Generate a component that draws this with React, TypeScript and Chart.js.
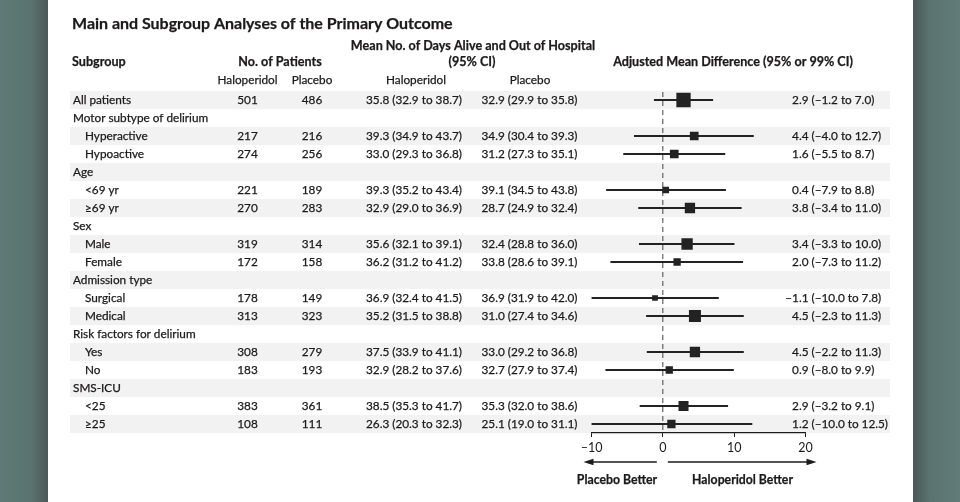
import React, { useEffect, useRef } from 'react';
import { Chart, registerables } from 'chart.js';

Chart.register(...registerables);

// ---------- data ----------
const titleText = 'Main and Subgroup Analyses of the Primary Outcome';
const headerSubgroup = 'Subgroup';
const headerPatients = 'No. of Patients';
const headerDays1 = 'Mean No. of Days Alive and Out of Hospital';
const headerDays2 = '(95% CI)';
const headerDiff = 'Adjusted Mean Difference (95% or 99% CI)';
const armNames = ['Haloperidol', 'Placebo'];
const favorLeft = 'Placebo Better';
const favorRight = 'Haloperidol Better';

const rowLabels = [
  'All patients', 'Motor subtype of delirium', 'Hyperactive', 'Hypoactive',
  'Age', '<69 yr', '≥69 yr', 'Sex', 'Male', 'Female',
  'Admission type', 'Surgical', 'Medical', 'Risk factors for delirium', 'Yes', 'No',
  'SMS-ICU', '<25', '≥25',
];
// 0 = overall row, 1 = group heading, 2 = subgroup row
const rowLevel = [0, 1, 2, 2, 1, 2, 2, 1, 2, 2, 1, 2, 2, 1, 2, 2, 1, 2, 2];

const nHaloperidol = [501, null, 217, 274, null, 221, 270, null, 319, 172, null, 178, 313, null, 308, 183, null, 383, 108];
const nPlacebo = [486, null, 216, 256, null, 189, 283, null, 314, 158, null, 149, 323, null, 279, 193, null, 361, 111];

const daysHaloperidol = [
  '35.8 (32.9 to 38.7)', null, '39.3 (34.9 to 43.7)', '33.0 (29.3 to 36.8)', null,
  '39.3 (35.2 to 43.4)', '32.9 (29.0 to 36.9)', null, '35.6 (32.1 to 39.1)', '36.2 (31.2 to 41.2)', null,
  '36.9 (32.4 to 41.5)', '35.2 (31.5 to 38.8)', null, '37.5 (33.9 to 41.1)', '32.9 (28.2 to 37.6)', null,
  '38.5 (35.3 to 41.7)', '26.3 (20.3 to 32.3)',
];
const daysPlacebo = [
  '32.9 (29.9 to 35.8)', null, '34.9 (30.4 to 39.3)', '31.2 (27.3 to 35.1)', null,
  '39.1 (34.5 to 43.8)', '28.7 (24.9 to 32.4)', null, '32.4 (28.8 to 36.0)', '33.8 (28.6 to 39.1)', null,
  '36.9 (31.9 to 42.0)', '31.0 (27.4 to 34.6)', null, '33.0 (29.2 to 36.8)', '32.7 (27.9 to 37.4)', null,
  '35.3 (32.0 to 38.6)', '25.1 (19.0 to 31.1)',
];

const diffEstimate = [2.9, null, 4.4, 1.6, null, 0.4, 3.8, null, 3.4, 2.0, null, -1.1, 4.5, null, 4.5, 0.9, null, 2.9, 1.2];
const diffLower = [-1.2, null, -4.0, -5.5, null, -7.9, -3.4, null, -3.3, -7.3, null, -10.0, -2.3, null, -2.2, -8.0, null, -3.2, -10.0];
const diffUpper = [7.0, null, 12.7, 8.7, null, 8.8, 11.0, null, 10.0, 11.2, null, 7.8, 11.3, null, 11.3, 9.9, null, 9.1, 12.5];
// relative weight of each estimate (marker area scaling)
const relWeight = [1.0, null, 0.61, 0.61, null, 0.47, 0.72, null, 0.79, 0.51, null, 0.4, 0.84, null, 0.72, 0.51, null, 0.7, 0.58];

const xTicks = [-10, 0, 10, 20];

// ---------- helpers ----------
const FONT = "Lato, 'Open Sans', 'DejaVu Sans', sans-serif";
const INK = '#1c1a1b';

function fmt(v: number): string {
  const s = Math.abs(v).toFixed(1);
  return v < 0 ? '\u2013' + s : s;
}

function fitSize(ctx: CanvasRenderingContext2D, text: string, weight: string, target: number): number {
  ctx.font = `${weight} 100px ${FONT}`;
  const w = ctx.measureText(text).width;
  return (100 * target) / w;
}

// fill with a hairline stroke to mimic the slightly heavier print weight
function ink(ctx: CanvasRenderingContext2D, text: string, x: number, y: number) {
  ctx.fillText(text, x, y);
  ctx.strokeText(text, x, y);
}

const tablePlugin = {
  id: 'forestTable',
  beforeDraw(chart: any) {
    const { ctx, height } = chart;
    ctx.save();
    let g = ctx.createLinearGradient(0, 0, 48, 0);
    g.addColorStop(0, '#5f7a76');
    g.addColorStop(0.65, '#5a7370');
    g.addColorStop(1, '#4b5856');
    ctx.fillStyle = g;
    ctx.fillRect(0, 0, 48, height);
    g = ctx.createLinearGradient(913, 0, 960, 0);
    g.addColorStop(0, '#4a5755');
    g.addColorStop(0.35, '#5a7370');
    g.addColorStop(1, '#627c79');
    ctx.fillStyle = g;
    ctx.fillRect(913, 0, 47, height);
    ctx.fillStyle = '#ffffff';
    ctx.fillRect(48, 0, 865, height);

    const y = chart.scales.y;
    const step = y.getPixelForValue(1) - y.getPixelForValue(0);
    ctx.fillStyle = '#f2f2f2';
    rowLabels.forEach((_, i) => {
      if (i % 2 === 0) {
        const c = y.getPixelForValue(i);
        ctx.fillRect(70, c - step / 2, 820, step);
      }
    });
    ctx.restore();
  },
  beforeDatasetsDraw(chart: any) {
    const { ctx, chartArea } = chart;
    const x0 = chart.scales.x.getPixelForValue(0);
    ctx.save();
    ctx.strokeStyle = '#444';
    ctx.lineWidth = 1;
    ctx.setLineDash([5, 4]);
    ctx.beginPath();
    ctx.moveTo(x0, chartArea.top + 1);
    ctx.lineTo(x0, chartArea.bottom);
    ctx.stroke();
    ctx.restore();
  },
  afterDraw(chart: any) {
    const { ctx } = chart;
    const y = chart.scales.y;
    const xs = chart.scales.x;
    ctx.save();
    ctx.fillStyle = INK;
    ctx.strokeStyle = INK;
    ctx.lineWidth = 0.25;
    ctx.textBaseline = 'alphabetic';

    // title
    const tSize = fitSize(ctx, titleText, 'bold', 381);
    ctx.font = `bold ${tSize}px ${FONT}`;
    ctx.textAlign = 'left';
    ink(ctx, titleText, 72, 29);

    // column headers
    const hSize = fitSize(ctx, headerDiff, 'bold', 240);
    ctx.font = `bold ${hSize}px ${FONT}`;
    ink(ctx, headerSubgroup, 72, 66);
    ctx.textAlign = 'center';
    ink(ctx, headerPatients, 280, 66);
    ink(ctx, headerDays1, 473, 50);
    ink(ctx, headerDays2, 472, 66);
    ink(ctx, headerDiff, 733, 66);

    const bSize = fitSize(ctx, '35.8 (32.9 to 38.7)', 'normal', 96);
    ctx.font = `${bSize}px ${FONT}`;
    ink(ctx, armNames[0], 247.5, 84);
    ink(ctx, armNames[1], 312, 84);
    ink(ctx, armNames[0], 416, 84);
    ink(ctx, armNames[1], 530, 84);

    rowLabels.forEach((label, i) => {
      const cy = y.getPixelForValue(i) + 4.3;
      ctx.textAlign = 'left';
      ink(ctx, label, rowLevel[i] === 2 ? 85 : 73, cy);
      ctx.textAlign = 'center';
      if (nHaloperidol[i] != null) ink(ctx, String(nHaloperidol[i]), 247.5, cy);
      if (nPlacebo[i] != null) ink(ctx, String(nPlacebo[i]), 312, cy);
      if (daysHaloperidol[i]) ink(ctx, daysHaloperidol[i] as string, 414, cy);
      if (daysPlacebo[i]) ink(ctx, daysPlacebo[i] as string, 529.5, cy);
      const est = diffEstimate[i];
      if (est != null) {
        ctx.textAlign = 'right';
        ink(ctx, fmt(est), 808.5, cy);
        ctx.textAlign = 'left';
        ink(ctx, ` (${fmt(diffLower[i] as number)} to ${fmt(diffUpper[i] as number)})`, 808.5, cy);
      }
    });

    // direction arrows
    const x0 = xs.getPixelForValue(0);
    const ay = 462;
    ctx.lineWidth = 1.3;
    const lStart = x0 - 6;
    const lEnd = xs.left - 8;
    const rStart = x0 + 5;
    const rEnd = xs.right + 11;
    ctx.beginPath();
    ctx.moveTo(lStart, ay);
    ctx.lineTo(lEnd + 8, ay);
    ctx.moveTo(rStart, ay);
    ctx.lineTo(rEnd - 8, ay);
    ctx.stroke();
    ctx.beginPath();
    ctx.moveTo(lEnd, ay);
    ctx.lineTo(lEnd + 10, ay - 3.2);
    ctx.lineTo(lEnd + 10, ay + 3.2);
    ctx.closePath();
    ctx.moveTo(rEnd, ay);
    ctx.lineTo(rEnd - 10, ay - 3.2);
    ctx.lineTo(rEnd - 10, ay + 3.2);
    ctx.closePath();
    ctx.fill();

    ctx.lineWidth = 0.25;
    const fSize = fitSize(ctx, favorRight, 'bold', 101);
    ctx.font = `bold ${fSize}px ${FONT}`;
    ctx.textAlign = 'center';
    ink(ctx, favorLeft, 617, 484);
    ink(ctx, favorRight, 742.5, 484);
    ctx.restore();
  },
};

export default function App() {
  const ref = useRef<HTMLCanvasElement>(null);

  useEffect(() => {
    document.body.style.margin = '0';
    const canvas = ref.current;
    if (!canvas) return;
    const markerSide = 14.3;
    const chart = new Chart(canvas, {
      type: 'bar',
      data: {
        labels: rowLabels,
        datasets: [
          {
            type: 'line',
            label: 'Estimate',
            indexAxis: 'y',
            data: diffEstimate as any,
            showLine: false,
            pointStyle: 'rect',
            pointRadius: relWeight.map((w) => (w == null ? 0 : (w * markerSide) / (2 * Math.SQRT1_2))),
            pointHoverRadius: relWeight.map((w) => (w == null ? 0 : (w * markerSide) / (2 * Math.SQRT1_2))),
            pointBackgroundColor: '#222',
            pointBorderWidth: 0,
            pointBorderColor: '#222',
            order: 0,
          } as any,
          {
            type: 'bar',
            label: 'CI',
            indexAxis: 'y',
            data: diffLower.map((lo, i) => (lo == null ? null : [lo, diffUpper[i]])) as any,
            backgroundColor: '#222',
            borderWidth: 0,
            barThickness: 1.4,
            order: 1,
          } as any,
        ],
      },
      options: {
        indexAxis: 'y',
        animation: false,
        responsive: false,
        maintainAspectRatio: false,
        events: [],
        layout: { padding: { left: 591.5, right: 154.5, top: 91, bottom: 49 } },
        plugins: { legend: { display: false }, tooltip: { enabled: false } },
        scales: {
          x: {
            type: 'linear',
            position: 'bottom',
            min: xTicks[0],
            max: xTicks[xTicks.length - 1],
            afterBuildTicks: (scale: any) => {
              scale.ticks = xTicks.map((v) => ({ value: v }));
            },
            afterFit: (scale: any) => {
              scale.height = 20;
            },
            ticks: {
              color: INK,
              padding: 3,
              font: { family: FONT, size: 12.5 },
              callback: (v: any) => String(v).replace('-', '\u2013'),
            },
            grid: {
              drawOnChartArea: false,
              drawTicks: true,
              tickLength: 4,
              tickColor: INK,
              tickWidth: 1,
              color: INK,
            },
            border: { display: true, color: INK, width: 1.2 },
          },
          y: {
            type: 'category',
            display: false,
            offset: true,
            grid: { display: false },
          },
        },
      } as any,
      plugins: [tablePlugin],
    });
    return () => chart.destroy();
  }, []);

  return (
    <div style={{ position: 'fixed', left: 0, top: 0, width: 960, height: 502 }}>
      <canvas ref={ref} width={960} height={502} style={{ display: 'block', width: 960, height: 502 }} />
    </div>
  );
}
